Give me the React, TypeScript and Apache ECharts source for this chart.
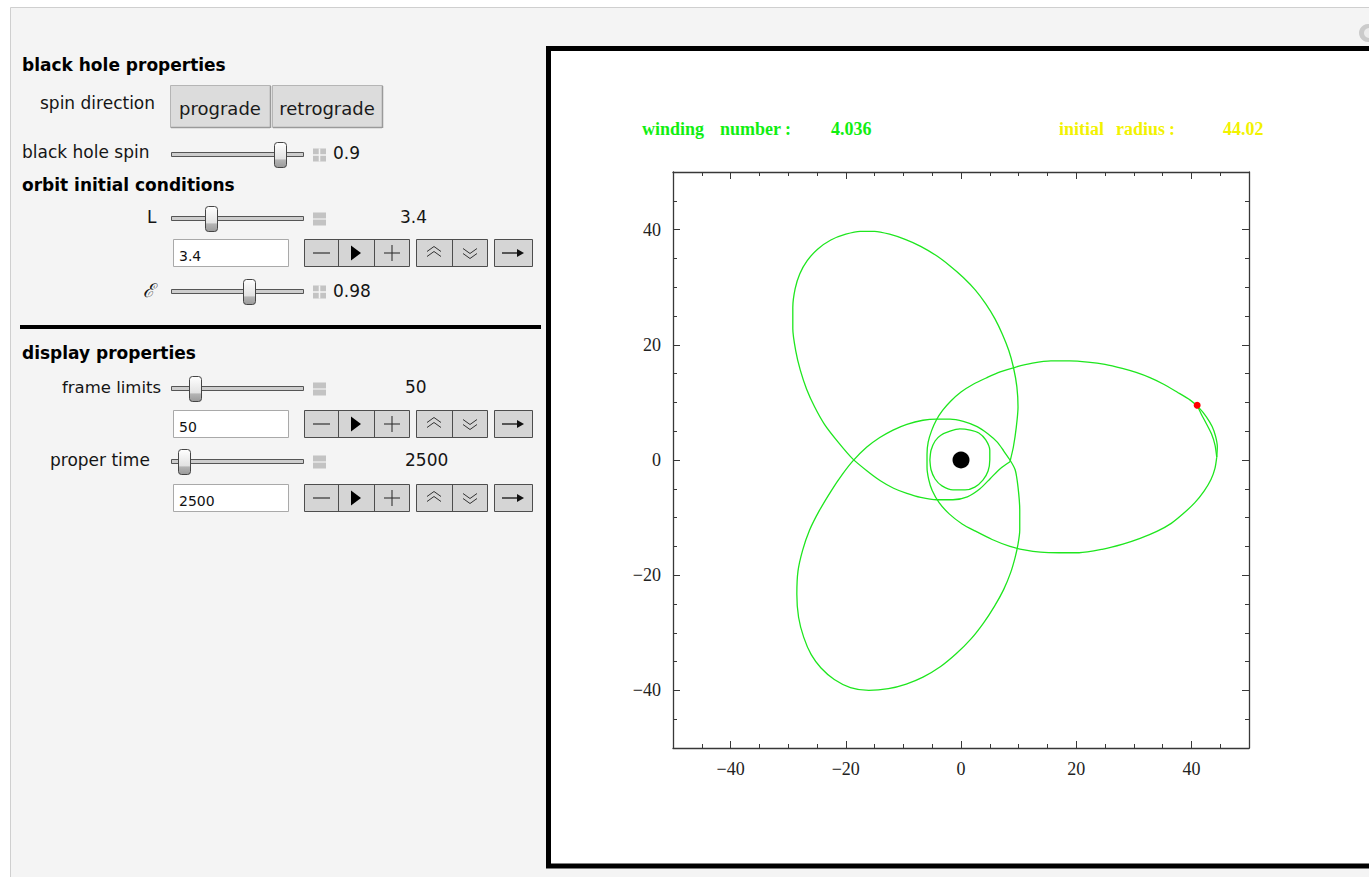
import React, { useEffect, useRef } from 'react';
import * as echarts from 'echarts';

// ---------------- data ----------------
const axisMin = -50;
const axisMax = 50;
const majorTicks = [-40, -20, 0, 20, 40];
const minorTicks = [-45, -35, -30, -25, -15, -10, -5, 5, 10, 15, 25, 30, 35, 45];

// orbit, in plot units
const rightPetal: number[][] = [
  [44.4, 0.5], [44.5, 2.3], [44.2, 4.1], [43.6, 5.8], [42.6, 7.5], [41.3, 9.1], [39.8, 10.4],
  [37.5, 11.8], [35.1, 13.2], [32.8, 14.3], [30.4, 15.2], [28.0, 15.9], [25.0, 16.6], [22.0, 17.0],
  [18.9, 17.2], [15.6, 17.2], [12.4, 16.8], [9.4, 16.1], [6.8, 15.3], [4.5, 14.3], [2.2, 13.2],
  [0.0, 11.8], [-1.8, 10.2], [-3.2, 8.6], [-4.3, 6.9], [-5.1, 5.1], [-5.7, 3.1], [-5.9, 1.0],
  [-5.9, -1.2], [-5.6, -3.4], [-5.0, -5.3], [-3.8, -7.4], [-2.0, -9.4], [0.2, -11.1], [2.4, -12.3],
  [5.4, -13.8], [8.5, -15.0], [11.0, -15.6], [13.8, -16.0], [17.0, -16.1], [20.5, -16.1],
  [24.5, -15.5], [28.1, -14.6], [31.1, -13.6], [34.0, -12.4], [36.5, -11.0], [38.6, -9.3],
  [40.6, -7.4], [42.2, -5.4], [43.4, -3.4], [44.1, -1.4], [44.4, 0.5]
];
const upperPetal: number[][] = [
  [8.5, -0.3], [9.1, 2.3], [9.6, 5.7], [9.9, 9.2], [9.7, 12.7], [9.1, 16.1], [8.3, 19.0],
  [7.2, 21.8], [5.9, 24.5], [4.3, 27.1], [2.5, 29.5], [0.4, 31.7], [-1.9, 33.7], [-4.3, 35.5],
  [-7.0, 37.1], [-9.7, 38.3], [-12.4, 39.2], [-15.0, 39.7], [-17.5, 39.7], [-20.0, 39.2],
  [-22.6, 38.2], [-24.9, 36.6], [-26.7, 34.6], [-28.0, 32.3], [-28.8, 29.7], [-29.2, 26.5],
  [-29.2, 22.8], [-28.7, 19.0], [-27.9, 15.6], [-26.8, 12.3], [-25.4, 9.2], [-23.7, 6.2],
  [-21.4, 3.2], [-18.8, 0.2], [-16.3, -1.9], [-14.0, -3.6], [-11.7, -4.9], [-9.4, -5.8],
  [-7.0, -6.5], [-4.2, -6.9], [-1.4, -6.9], [1.1, -6.4], [3.3, -5.0], [5.1, -3.2], [6.8, -1.5],
  [8.5, -0.3]
];
const lowerPetal: number[][] = [
  [8.5, 0], [9.4, -1.7], [9.9, -4.7], [10.2, -8.7], [10.2, -12.2], [9.9, -14.6], [9.4, -16.9],
  [8.6, -19.6], [7.4, -22.5], [5.8, -25.4], [3.9, -28.3], [1.7, -31.1], [-0.8, -33.6],
  [-3.6, -35.9], [-6.6, -37.7], [-9.5, -38.9], [-12.6, -39.7], [-16.0, -40.0], [-19.2, -39.5],
  [-22.0, -38.1], [-24.3, -36.1], [-26.0, -33.8], [-27.3, -30.8], [-28.2, -27.3], [-28.5, -23.3],
  [-28.3, -19.3], [-27.5, -15.7], [-26.3, -12.2], [-24.6, -8.8], [-22.5, -5.3], [-20.6, -2.5],
  [-18.8, -0.2], [-16.4, 2.2], [-14.1, 3.9], [-11.8, 5.2], [-9.4, 6.2], [-6.6, 6.9], [-4.2, 7.1],
  [-1.9, 7.1], [0.4, 6.7], [2.8, 5.8], [4.6, 4.6], [6.3, 3.1], [7.4, 1.6], [8.5, 0]
];
const innerLoop: number[][] = [
  [-5.4, 0], [-5.2, 1.7], [-4.5, 3.3], [-3.5, 4.3], [-1.9, 5.0], [-0.2, 5.4], [1.6, 5.2],
  [3.1, 4.7], [4.3, 3.5], [5.0, 1.7], [5.0, 0], [4.7, -1.9], [3.8, -3.5], [2.4, -4.7],
  [0.7, -5.2], [-1.4, -5.2], [-3.3, -4.5], [-4.5, -3.3], [-5.2, -1.7], [-5.4, 0]
];
const finalTail: number[][] = [
  [44.4, 0.5], [44.1, 2.6], [43.5, 4.5], [42.6, 6.3], [41.7, 8.0], [41.0, 9.5]
];
const blackHole: number[][] = [[0, 0]];
const currentPosition: number[][] = [[41.0, 9.5]];

const windingNumber = '4.036';
const initialRadius = '44.02';
const spinValue = '0.9';
const angularMomentum = '3.4';
const energyValue = '0.98';
const frameLimit = '50';
const properTime = '2500';

// ---------------- UI helpers ----------------
const SANS = '"DejaVu Sans", sans-serif';
const SERIF = '"Liberation Serif", "Times New Roman", serif';

function txt(x: number, y: number, text: string, size: number, o: any = {}) {
  return {
    type: 'text', x, y, z: 30, silent: true,
    style: {
      text, fill: o.color || '#151515', fontSize: size, fontFamily: o.family || SANS,
      fontWeight: o.bold ? 'bold' : 'normal', fontStyle: o.italic ? 'italic' : 'normal',
      align: o.align || 'left', verticalAlign: 'middle'
    }
  };
}
function rect(x: number, y: number, w: number, h: number, style: any, z = 20, r = 0) {
  return { type: 'rect', z, silent: true, shape: { x, y, width: w, height: h, r }, style };
}
function line(x1: number, y1: number, x2: number, y2: number, stroke: string, lw = 1, z = 25) {
  return { type: 'line', z, silent: true, shape: { x1, y1, x2, y2 }, style: { stroke, lineWidth: lw } };
}

const thumbFill = new echarts.graphic.LinearGradient(0, 0, 0, 1, [
  { offset: 0, color: '#ffffff' },
  { offset: 0.65, color: '#e2e2e2' },
  { offset: 0.7, color: '#b4b4b4' },
  { offset: 1, color: '#9a9a9a' }
]);

function slider(ty: number, thumbX: number, icon: 'plus' | 'minus') {
  const els: any[] = [];
  els.push(rect(171.5, ty - 2.5, 132, 4, { fill: '#cdcdcd', stroke: '#555', lineWidth: 1 }, 20));
  els.push(rect(thumbX + 0.5, ty - 12.5, 12, 25, { fill: thumbFill, stroke: '#444', lineWidth: 1 }, 22, 3));
  els.push(rect(313, ty - 6.5, 13, 13, { fill: '#c3c3c3' }, 20));
  if (icon === 'plus') {
    els.push(line(313, ty, 326, ty, '#f4f4f4', 1.5));
    els.push(line(319.5, ty - 6.5, 319.5, ty + 6.5, '#f4f4f4', 1.5));
  } else {
    els.push(line(313, ty, 326, ty, '#e8e8e8', 1.5));
  }
  return els;
}

function inputRow(top: number, value: string) {
  const els: any[] = [];
  const h = 27;
  const mid = top + h / 2;
  els.push(rect(173.5, top + 0.5, 115, h, { fill: '#ffffff', stroke: '#a9a9a9', lineWidth: 1 }, 20));
  els.push(txt(179, top + 17, value, 14, { color: '#111' }));
  const btn = { fill: '#d5d5d5', stroke: '#4d4d4d', lineWidth: 1 };
  els.push(rect(304.5, top + 0.5, 105, h, btn, 20));
  els.push(line(338.5, top, 338.5, top + h + 1, '#4d4d4d'));
  els.push(line(374.5, top, 374.5, top + h + 1, '#4d4d4d'));
  els.push(line(313, mid + 0.5, 330, mid + 0.5, '#333', 1.2));
  els.push({ type: 'polygon', z: 25, silent: true, shape: { points: [[351, mid - 7], [351, mid + 8], [361, mid + 0.5]] }, style: { fill: '#000' } });
  els.push(line(384, mid + 0.5, 400, mid + 0.5, '#333', 1.1));
  els.push(line(392, mid - 7.5, 392, mid + 8.5, '#333', 1.1));
  els.push(rect(416.5, top + 0.5, 71, h, btn, 20));
  els.push(line(452.5, top, 452.5, top + h + 1, '#4d4d4d'));
  els.push({ type: 'polyline', z: 25, silent: true, shape: { points: [[427, mid - 1], [434, mid - 6], [441, mid - 1]] }, style: { stroke: '#333', lineWidth: 1, fill: null } });
  els.push({ type: 'polyline', z: 25, silent: true, shape: { points: [[427, mid + 4], [434, mid - 1], [441, mid + 4]] }, style: { stroke: '#333', lineWidth: 1, fill: null } });
  els.push({ type: 'polyline', z: 25, silent: true, shape: { points: [[463, mid - 4], [470, mid + 1], [477, mid - 4]] }, style: { stroke: '#333', lineWidth: 1, fill: null } });
  els.push({ type: 'polyline', z: 25, silent: true, shape: { points: [[463, mid + 1], [470, mid + 6], [477, mid + 1]] }, style: { stroke: '#333', lineWidth: 1, fill: null } });
  els.push(rect(494.5, top + 0.5, 38, h, btn, 20));
  els.push(line(502, mid + 0.5, 520, mid + 0.5, '#111', 1.3));
  els.push({ type: 'polygon', z: 25, silent: true, shape: { points: [[517, mid - 3.5], [524, mid + 0.5], [517, mid + 4.5]] }, style: { fill: '#111' } });
  return els;
}

function buildGraphic() {
  const g: any[] = [];
  g.push(rect(0, 0, 1369, 877, { fill: '#ffffff' }, -20));
  g.push(rect(10.5, 7.5, 1380, 880, { fill: '#f4f4f4', stroke: '#cfcfcf', lineWidth: 1 }, -19));
  g.push(rect(548.5, 48.5, 900, 817.5, { fill: '#ffffff', stroke: '#000000', lineWidth: 5 }, -18));
  g.push({ type: 'circle', z: 20, silent: true, shape: { cx: 1368, cy: 33, r: 9 }, style: { fill: '#cbcbcb' } });
  g.push({ type: 'circle', z: 21, silent: true, shape: { cx: 1369, cy: 33, r: 5 }, style: { fill: '#ececec' } });

  g.push(txt(22, 65, 'black hole properties', 17, { bold: true, color: '#000' }));
  g.push(txt(22, 185, 'orbit initial conditions', 17, { bold: true, color: '#000' }));
  g.push(txt(22, 353, 'display properties', 17, { bold: true, color: '#000' }));

  g.push(txt(40, 103, 'spin direction', 17));
  const bfill = '#dcdcdc';
  g.push(rect(170.5, 85.5, 100, 42, { fill: bfill, stroke: '#b5b5b5', lineWidth: 1 }, 20));
  g.push(line(171, 127.5, 270, 127.5, '#9a9a9a', 1.5));
  g.push(line(270.5, 86, 270.5, 128, '#9a9a9a', 1.5));
  g.push(txt(220, 108, 'prograde', 18, { align: 'center', color: '#1a1a1a' }));
  g.push(rect(272.5, 85.5, 110, 42, { fill: bfill, stroke: '#b5b5b5', lineWidth: 1 }, 20));
  g.push(line(273, 127.5, 382, 127.5, '#9a9a9a', 1.5));
  g.push(line(382.5, 86, 382.5, 128, '#9a9a9a', 1.5));
  g.push(txt(327, 108, 'retrograde', 18, { align: 'center', color: '#1a1a1a' }));

  g.push(txt(22, 152, 'black hole spin', 17));
  g.push(...slider(155, 274, 'plus'));
  g.push(txt(333, 153, spinValue, 17));

  g.push(txt(147, 217, 'L', 17));
  g.push(...slider(219, 205, 'minus'));
  g.push(txt(400, 217, angularMomentum, 17));
  g.push(...inputRow(239, angularMomentum));

  g.push(txt(143, 290, 'ℰ', 19, { family: '"DejaVu Serif", serif', italic: true }));
  g.push(...slider(292, 243, 'plus'));
  g.push(txt(333, 291, energyValue, 17));

  g.push(rect(20, 325, 521, 4, { fill: '#000' }, 20));

  g.push(txt(62, 387, 'frame limits', 16.5));
  g.push(...slider(389, 189, 'minus'));
  g.push(txt(405, 387, frameLimit, 17));
  g.push(...inputRow(410, frameLimit));

  g.push(txt(50, 460, 'proper time', 17));
  g.push(...slider(462, 178, 'minus'));
  g.push(txt(405, 460, properTime, 17));
  g.push(...inputRow(484, properTime));

  const green = '#11ee11';
  const yellow = '#f2f200';
  g.push(txt(642, 129, 'winding', 18, { bold: true, family: SERIF, color: green }));
  g.push(txt(720, 129, 'number', 18, { bold: true, family: SERIF, color: green }));
  g.push(txt(785, 129, ':', 18, { bold: true, family: SERIF, color: green }));
  g.push(txt(831, 129, windingNumber, 18, { bold: true, family: SERIF, color: green }));
  g.push(txt(1059, 129, 'initial', 18, { bold: true, family: SERIF, color: yellow }));
  g.push(txt(1116, 129, 'radius', 18, { bold: true, family: SERIF, color: yellow }));
  g.push(txt(1169, 129, ':', 18, { bold: true, family: SERIF, color: yellow }));
  g.push(txt(1223, 129, initialRadius, 18, { bold: true, family: SERIF, color: yellow }));
  return g;
}

// ---------------- axes ----------------
const fmt = (v: number) => String(v).replace('-', '\u2212');
const axisColor = '#383838';

function majorAxis(position: string, labels: boolean) {
  return {
    type: 'value', gridIndex: 0, position, min: axisMin, max: axisMax,
    axisLine: { show: true, onZero: false, lineStyle: { color: axisColor, width: 1.3 } },
    axisTick: { show: true, inside: true, length: 7, customValues: majorTicks, lineStyle: { color: axisColor, width: 1 } },
    axisLabel: {
      show: labels, customValues: majorTicks, formatter: fmt, color: '#222',
      fontFamily: SERIF, fontSize: 18, margin: 12
    },
    splitLine: { show: false }
  };
}
function minorAxis(position: string) {
  return {
    type: 'value', gridIndex: 1, position, min: axisMin, max: axisMax,
    axisLine: { show: false, onZero: false },
    axisTick: { show: true, inside: true, length: 4, customValues: minorTicks, lineStyle: { color: axisColor, width: 1 } },
    axisLabel: { show: false },
    splitLine: { show: false }
  };
}

function orbitSeries(name: string, data: number[][]) {
  return {
    name, type: 'line', xAxisIndex: 0, yAxisIndex: 0, data, symbol: 'none', smooth: 0.25,
    lineStyle: { color: '#1ee61e', width: 1.3 }, z: 3, silent: true
  };
}

export default function App() {
  const ref = useRef<HTMLDivElement>(null);
  useEffect(() => {
    if (!ref.current) return;
    const chart = echarts.init(ref.current, undefined, { renderer: 'svg' });
    const gridBox = { left: 673, top: 172, width: 576, height: 576 };
    chart.setOption({
      animation: false,
      backgroundColor: '#ffffff',
      grid: [{ ...gridBox }, { ...gridBox }],
      xAxis: [majorAxis('bottom', true), majorAxis('top', false), minorAxis('bottom'), minorAxis('top')],
      yAxis: [majorAxis('left', true), majorAxis('right', false), minorAxis('left'), minorAxis('right')],
      graphic: { elements: buildGraphic() },
      series: [
        orbitSeries('right petal', rightPetal),
        orbitSeries('upper petal', upperPetal),
        orbitSeries('lower petal', lowerPetal),
        orbitSeries('inner loop', innerLoop),
        orbitSeries('final tail', finalTail),
        {
          name: 'black hole', type: 'scatter', xAxisIndex: 0, yAxisIndex: 0, data: blackHole,
          symbolSize: 17, itemStyle: { color: '#000000', opacity: 1 }, z: 5, silent: true
        },
        {
          name: 'position', type: 'scatter', xAxisIndex: 0, yAxisIndex: 0, data: currentPosition,
          symbolSize: 7, itemStyle: { color: '#ff0000', opacity: 1 }, z: 6, silent: true
        }
      ]
    });
    return () => chart.dispose();
  }, []);
  return <div ref={ref} style={{ position: 'absolute', left: 0, top: 0, width: 1369, height: 877 }} />;
}
